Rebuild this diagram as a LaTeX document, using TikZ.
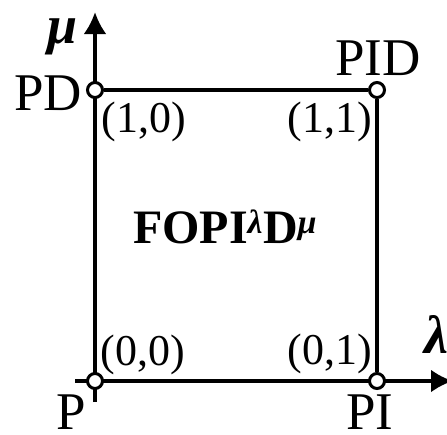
\documentclass[tikz,border=0pt]{standalone}
\usepackage{fontspec}
\setmainfont{Liberation Serif}
\usetikzlibrary{arrows.meta, positioning}

\tikzset{
  corner/.style={circle, draw, fill=white, line width=3pt, inner sep=0pt, minimum size=15pt},
  ctrl/.style={font=\fontsize{53}{53}\selectfont, inner sep=0pt, anchor=base},
  pair/.style={font=\fontsize{44}{44}\selectfont, inner sep=0pt},
  greek/.style={font=\fontsize{54}{54}\selectfont\bfseries\itshape, inner sep=0pt, anchor=base},
  axis/.style={line width=3.8pt, -{Latex[length=22pt, width=23pt]}}
}

\begin{document}
\begin{tikzpicture}[x=1pt, y=-1pt, line width=3.8pt]
  \useasboundingbox (0,0) rectangle (447,434);
  % corner positions and axis ends
  \coordinate (cP) at (95,381);
  \coordinate (cPI) at (377,381);
  \coordinate (cPD) at (95,90);
  \coordinate (cPID) at (377,90);
  \coordinate (muTip) at (95,12);
  \coordinate (muEnd) at (95,402);
  \coordinate (laTip) at (453,381);
  \coordinate (laEnd) at (75,381);
  % axes
  \draw[axis] (muEnd) -- (muTip);
  \draw[axis] (laEnd) -- (laTip);
  % corners of the square
  \node[corner] (P) at (cP) {};
  \node[corner] (PI) at (cPI) {};
  \node[corner] (PD) at (cPD) {};
  \node[corner] (PID) at (cPID) {};
  \draw (PD) -- (PID) -- (PI);
  % labels
  \node[ctrl] (tP) at (71,429) {P};
  \node[ctrl] (tPI) at (370,429) {PI};
  \node[ctrl] (tPD) at (48,110) {PD};
  \node[ctrl] (tPID) at (378,75) {PID};
  \node[pair] (t10) at (144,122) {(1,0)};
  \node[pair] (t11) at (330,122) {(1,1)};
  \node[pair] (t00) at (143,355) {(0,0)};
  \node[pair] (t01) at (330,354) {(0,1)};
  \node[greek] (mu) at (63,43) {μ};
  \node[greek] (la) at (436,353) {λ};
  \node[font=\fontsize{48}{48}\selectfont\bfseries, inner sep=0pt, anchor=base] (title) at (225,243)
    {FOPI\textsuperscript{\itshape λ}D\textsuperscript{\itshape μ}};
\end{tikzpicture}
\end{document}
